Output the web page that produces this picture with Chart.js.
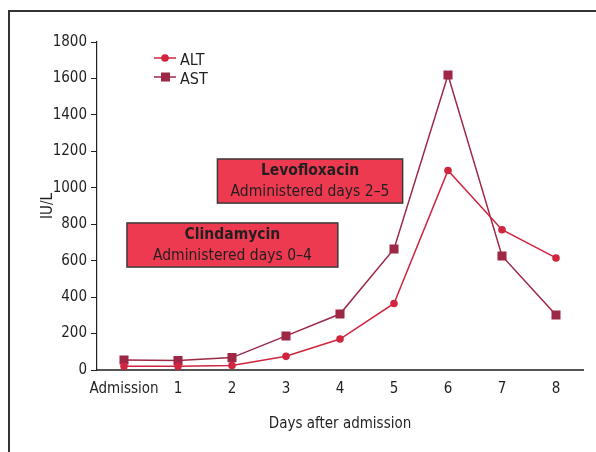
<!DOCTYPE html>
<html><head><meta charset="utf-8">
<script src="https://cdn.jsdelivr.net/npm/chart.js@4"></script>
<style>
html,body{margin:0;padding:0;background:#fff;}
#wrap{position:relative;width:596px;height:452px;overflow:hidden;}
#frame{position:absolute;left:8px;top:10px;width:620px;height:480px;border-left:2px solid #333;border-top:2px solid #333;pointer-events:none;}
canvas{position:absolute;left:0;top:0;}
</style></head><body>
<div id="wrap"><canvas id="c" width="596" height="452"></canvas><div id="frame"></div></div>
<script>
const categories = ['Admission','1','2','3','4','5','6','7','8'];
const altValues = [20, 20, 25, 75, 170, 365, 1095, 770, 615];
const astValues = [55, 52, 68, 187, 307, 664, 1619, 626, 302];
const yTickValues = [0, 200, 400, 600, 800, 1000, 1200, 1400, 1600, 1800];
const drugNames = ['Levofloxacin', 'Clindamycin'];
const drugNotes = ['Administered days 2–5', 'Administered days 0–4'];

const FONT = "'Liberation Sans Narrow', 'DejaVu Sans Condensed', 'Roboto Condensed', sans-serif";
const TXT = '#231f20';
const ALT_COLOR = '#d0243f';
const AST_COLOR = '#9d2846';
const FS = 15;
Chart.defaults.font.family = FONT;
Chart.defaults.font.size = FS;
Chart.defaults.color = TXT;

// annotation box extents in data units (category index, IU/L)
const boxLayout = [
  {x0: 1.73, x1: 5.16, yTop: 1158, yBot: 916},
  {x0: 0.055, x1: 3.96, yTop: 807, yBot: 565}
];

const annotations = {
  id: 'annotations',
  beforeDatasetsDraw(chart) {
    const {ctx, scales: {x, y}} = chart;
    ctx.save();
    boxLayout.forEach((b, i) => {
      const l = x.getPixelForValue(b.x0), r = x.getPixelForValue(b.x1);
      const t = y.getPixelForValue(b.yTop), btm = y.getPixelForValue(b.yBot);
      ctx.fillStyle = '#ee3a50';
      ctx.fillRect(l, t, r - l, btm - t);
      ctx.strokeStyle = '#3a3a3a';
      ctx.lineWidth = 1.5;
      ctx.strokeRect(l, t, r - l, btm - t);
      const cx = (l + r) / 2, h = btm - t;
      ctx.fillStyle = TXT;
      ctx.textAlign = 'center';
      ctx.textBaseline = 'middle';
      ctx.font = 'bold ' + (FS + 0.5) + 'px ' + FONT;
      ctx.fillText(drugNames[i], cx, t + h * 0.28);
      ctx.font = (FS + 0.5) + 'px ' + FONT;
      ctx.fillText(drugNotes[i], cx, t + h * 0.74);
    });
    ctx.restore();
  }
};

const customLegend = {
  id: 'customLegend',
  afterDraw(chart) {
    const {ctx} = chart;
    ctx.save();
    chart.data.datasets.forEach((ds, i) => {
      const yy = 58 + i * 19;
      ctx.strokeStyle = ds.borderColor;
      ctx.lineWidth = 1.5;
      ctx.beginPath(); ctx.moveTo(154, yy); ctx.lineTo(176, yy); ctx.stroke();
      ctx.fillStyle = ds.backgroundColor;
      if (ds.pointStyle === 'rect') {
        ctx.fillRect(161, yy - 4.5, 9, 9);
      } else {
        ctx.beginPath(); ctx.arc(165, yy, 3.8, 0, Math.PI * 2); ctx.fill();
      }
      ctx.fillStyle = TXT;
      ctx.font = (FS + 1) + 'px ' + FONT;
      ctx.textAlign = 'left';
      ctx.textBaseline = 'middle';
      ctx.fillText(ds.label, 180, yy + 3);
    });
    ctx.restore();
  }
};

new Chart(document.getElementById('c'), {
  type: 'line',
  data: {
    labels: categories,
    datasets: [
      {label: 'ALT', data: altValues, borderColor: ALT_COLOR, backgroundColor: ALT_COLOR,
       borderWidth: 1.5, pointStyle: 'circle', pointRadius: 3.8, pointBorderWidth: 0, tension: 0},
      {label: 'AST', data: astValues, borderColor: AST_COLOR, backgroundColor: AST_COLOR,
       borderWidth: 1.5, pointStyle: 'rect', pointRadius: 6.4, pointBorderWidth: 0, tension: 0}
    ]
  },
  options: {
    responsive: false,
    animation: false,
    devicePixelRatio: 1,
    layout: {padding: {left: 30, right: 13, top: 42, bottom: 0}},
    plugins: {legend: {display: false}, tooltip: {enabled: false}},
    scales: {
      x: {
        offset: true,
        grid: {display: true, drawOnChartArea: false, drawTicks: false},
        border: {display: true, color: '#555', width: 2},
        ticks: {padding: 10, color: TXT, maxRotation: 0, autoSkip: false},
        title: {display: true, text: 'Days after admission', color: TXT, padding: {top: 4, bottom: 19}},
        afterFit(s) { s.height = 82; }
      },
      y: {
        min: 0, max: 1800,
        afterBuildTicks(s) { s.ticks = yTickValues.map(v => ({value: v})); },
        grid: {display: true, drawOnChartArea: false, drawTicks: true, tickLength: 6, color: TXT, lineWidth: 1},
        border: {display: true, color: TXT, width: 1.2},
        ticks: {padding: 4, color: TXT, callback: v => String(v)},
        title: {display: true, text: 'IU/L', color: TXT, padding: {top: 9, bottom: 0}},
        afterFit(s) { s.width = 67; }
      }
    }
  },
  plugins: [annotations, customLegend]
});
</script>
</body></html>
